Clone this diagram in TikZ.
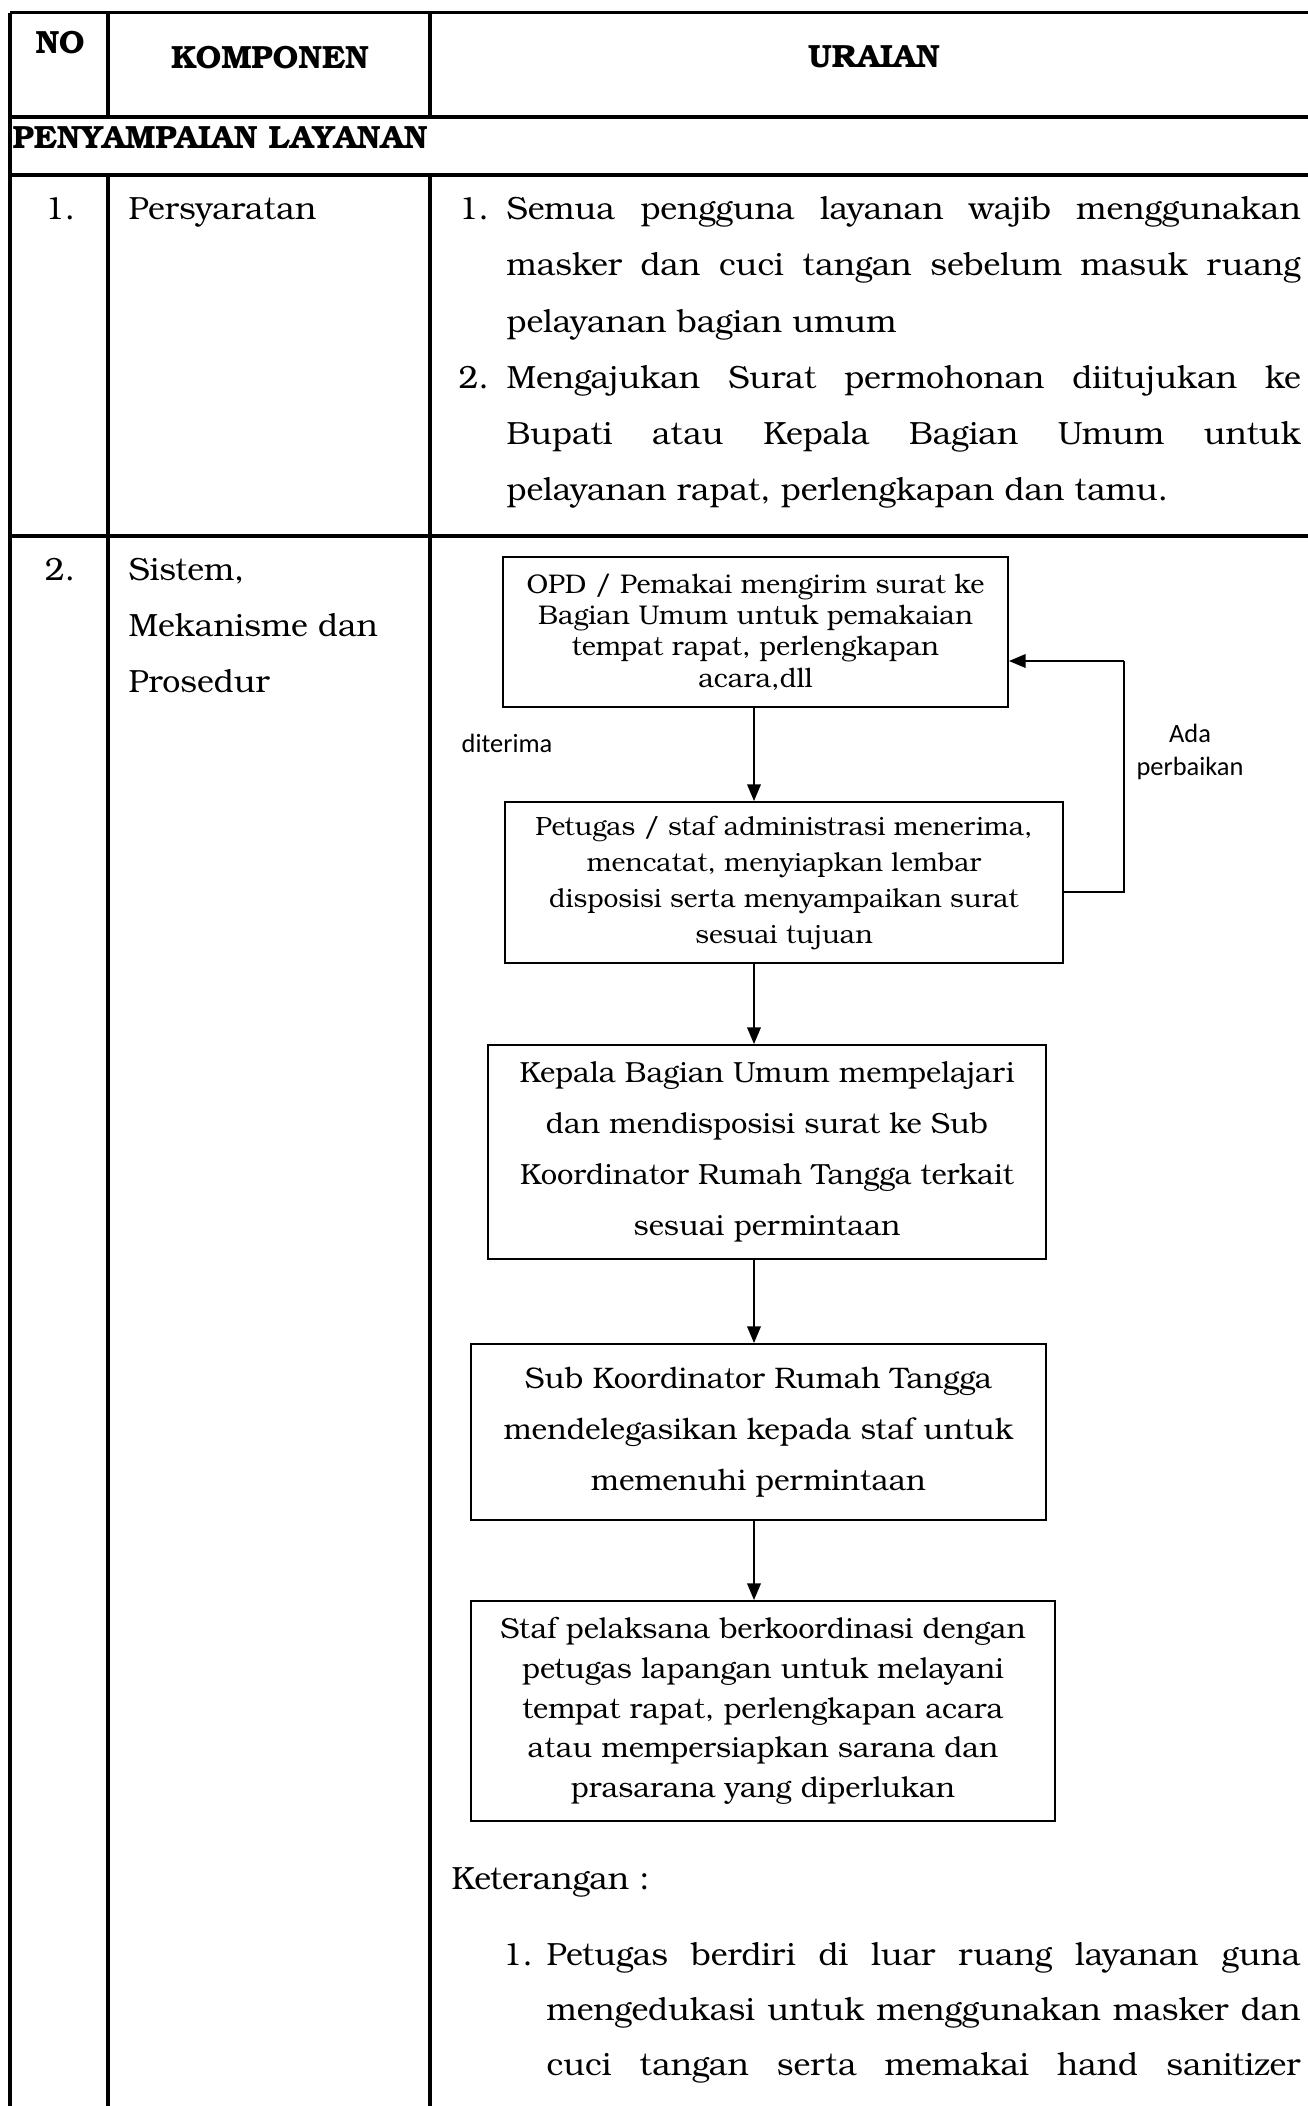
\documentclass[tikz,border=0pt]{standalone}
\usepackage{fontspec}
\setmainfont{TeX Gyre Bonum}
\newfontfamily\labelfont{Carlito}
\usetikzlibrary{arrows.meta}

\begin{document}
\begin{tikzpicture}[
  x=0.33333pt, y=-0.33333pt,
  rule/.style={line width=1.1pt},
  txt/.style={inner sep=0pt, anchor=base west, font=\fontsize{10.7}{12}\selectfont},
  ctxt/.style={inner sep=0pt, anchor=base, font=\fontsize{10.7}{12}\selectfont},
  head/.style={inner sep=0pt, anchor=base, font=\fontsize{10.7}{12}\selectfont\bfseries},
  stepbox/.style={draw, line width=0.6pt, inner sep=0pt, align=center},
  flowarrow/.style={line width=0.7pt, -{Triangle[length=5.6pt,width=4.5pt]}},
  thinline/.style={line width=0.45pt},
  lbl/.style={inner sep=0pt, align=center, font=\labelfont\fontsize{8.8}{11}\selectfont}
]
\useasboundingbox (0,0) rectangle (1308,2106);

% ---- table rules ----
\draw[rule] (10,12.7) -- (1308,12.7);
\draw[rule] (10,117) -- (1308,117);
\draw[rule] (10,175) -- (1308,175);
\draw[rule] (10,536) -- (1308,536);
\draw[rule] (10,12.7) -- (10,2106);
\draw[rule] (108,12.7) -- (108,117);
\draw[rule] (430,12.7) -- (430,117);
\draw[rule] (108,175) -- (108,2106);
\draw[rule] (430,175) -- (430,2106);

% ---- header ----
\node[head] (hNo) at (60,53) {NO};
\node[head] (hKomp) at (270,68) {KOMPONEN};
\node[head] (hUra) at (874,67) {URAIAN};
\node[head, anchor=base west] (hSect) at (12,148) {PENYAMPAIAN LAYANAN};

% ---- row 1 ----
\node[ctxt] (n1) at (60,219) {1.};
\node[txt] (k1) at (128,219) {Persyaratan};
\node[txt] (r1a) at (458,219) {1.};
\node[txt] (r1a1) at (506,219) {\makebox[264.7pt][s]{Semua pengguna layanan wajib menggunakan}};
\node[txt] (r1a2) at (506,275.5) {\makebox[264.7pt][s]{masker dan cuci tangan sebelum masuk ruang}};
\node[txt] (r1a3) at (506,332) {pelayanan bagian umum};
\node[txt] (r1b) at (458,388.5) {2.};
\node[txt] (r1b1) at (506,388.5) {\makebox[264.7pt][s]{Mengajukan Surat permohonan diitujukan ke}};
\node[txt] (r1b2) at (506,444.5) {\makebox[264.7pt][s]{Bupati atau Kepala Bagian Umum untuk}};
\node[txt] (r1b3) at (506,500.5) {pelayanan rapat, perlengkapan dan tamu.};

% ---- row 2 ----
\node[ctxt] (n2) at (60,580) {2.};
\node[txt] (k2a) at (128,580) {Sistem,};
\node[txt] (k2b) at (128,636) {Mekanisme dan};
\node[txt] (k2c) at (128,692) {Prosedur};

% ---- flow chart ----
\node[stepbox, minimum width=168.33pt, minimum height=50pt,
      font=\fontsize{9.0}{10.43}\selectfont] (A) at (755.5,632)
  {OPD / Pemakai mengirim surat ke\\Bagian Umum untuk pemakaian\\tempat rapat, perlengkapan\\acara,dll};
\node[stepbox, minimum width=186pt, minimum height=53.67pt,
      font=\fontsize{8.8}{12}\selectfont] (B) at (784,882.5)
  {Petugas / staf administrasi menerima,\\mencatat, menyiapkan lembar\\disposisi serta menyampaikan surat\\sesuai tujuan};
\node[stepbox, minimum width=186pt, minimum height=71.33pt,
      font=\fontsize{9.7}{17}\selectfont] (C) at (767,1152)
  {Kepala Bagian Umum mempelajari\\dan mendisposisi surat ke Sub\\Koordinator Rumah Tangga terkait\\sesuai permintaan};
\node[stepbox, minimum width=191.67pt, minimum height=58.67pt,
      font=\fontsize{9.9}{17}\selectfont] (D) at (758.5,1432)
  {Sub Koordinator Rumah Tangga\\mendelegasikan kepada staf untuk\\memenuhi permintaan};
\node[stepbox, minimum width=194.67pt, minimum height=73.33pt,
      font=\fontsize{9.65}{13.2}\selectfont] (E) at (763,1711)
  {Staf pelaksana berkoordinasi dengan\\petugas lapangan untuk melayani\\tempat rapat, perlengkapan acara\\atau mempersiapkan sarana dan\\prasarana yang diperlukan};

\coordinate (colx) at (754,0);
\draw[flowarrow] (A.south -| colx) -- (B.north -| colx);
\draw[flowarrow] (B.south -| colx) -- (C.north -| colx);
\draw[flowarrow] (C.south -| colx) -- (D.north -| colx);
\draw[flowarrow] (D.south -| colx) -- (E.north -| colx);

% return path for corrections
\coordinate (fbLow) at (1124,892);
\coordinate (fbHigh) at (1124,661);
\draw[thinline] (B.east |- fbLow) -- (fbLow) -- (fbHigh);
\draw[flowarrow] (fbHigh) -- (A.east |- fbHigh);

\node[lbl] (diterima) at (507,743) {diterima};
\node[lbl] (ada) at (1190,752) {Ada\\perbaikan};

% ---- notes ----
\node[txt] (ket) at (451,1889) {Keterangan :};
\node[txt] (kn) at (502,1965) {1.};
\node[txt] (kn1) at (546,1965) {\makebox[251.3pt][s]{Petugas berdiri di luar ruang layanan guna}};
\node[txt] (kn2) at (546,2020) {\makebox[251.3pt][s]{mengedukasi untuk menggunakan masker dan}};
\node[txt] (kn3) at (546,2075) {\makebox[251.3pt][s]{cuci tangan serta memakai hand sanitizer}};
\end{tikzpicture}
\end{document}
